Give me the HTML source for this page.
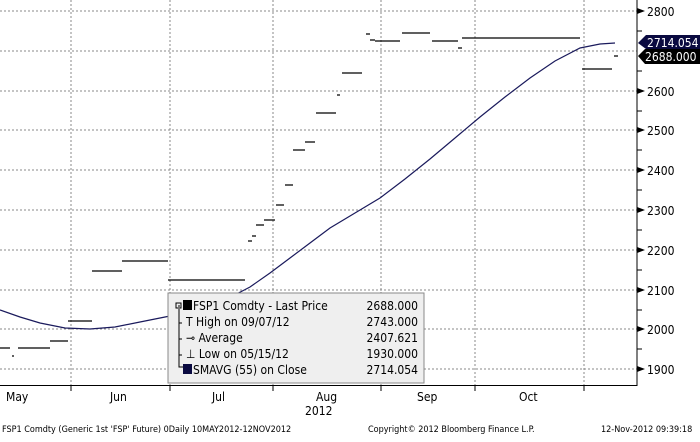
<!DOCTYPE html><html><head><style>body{margin:0;background:#fff}svg text{font-family:"DejaVu Sans Condensed","Liberation Sans",sans-serif;font-size:12px}</style></head><body>
<svg width="700" height="437" xmlns="http://www.w3.org/2000/svg">
<rect width="700" height="437" fill="#fff"/>
<g stroke="#888" stroke-dasharray="2,2" stroke-width="1">
<line x1="0" y1="11" x2="637" y2="11"/><line x1="0" y1="51" x2="637" y2="51"/><line x1="0" y1="91" x2="637" y2="91"/><line x1="0" y1="130" x2="637" y2="130"/><line x1="0" y1="170" x2="637" y2="170"/><line x1="0" y1="210" x2="637" y2="210"/><line x1="0" y1="250" x2="637" y2="250"/><line x1="0" y1="290" x2="637" y2="290"/><line x1="0" y1="329" x2="637" y2="329"/><line x1="0" y1="369" x2="637" y2="369"/>
<line x1="71" y1="0" x2="71" y2="385"/><line x1="170" y1="0" x2="170" y2="385"/><line x1="273" y1="0" x2="273" y2="385"/><line x1="381" y1="0" x2="381" y2="385"/><line x1="475" y1="0" x2="475" y2="385"/><line x1="584" y1="0" x2="584" y2="385"/>
</g>
<line x1="637" y1="0" x2="637" y2="386" stroke="#000"/>
<line x1="0" y1="385.5" x2="637" y2="385.5" stroke="#000"/>
<g stroke="#000" stroke-width="1.2">
<path d="M0 348h10M12 356h2M18 348h32M50 341h18M68 321h24M92 271h30M122 261h46M168 280h77M248 241h4M252 236h4M256 225h8M264 220h11M276 205h8M285 185h8M293 150h12M305 142h10M316 113h20M337 95h3M342 73h20M366 34h4M370 40h5M375 41h25M402 33h28M432 41h26M458 48h4M462 38h118M582 69h30M614 56h4"/>
</g>
<polyline points="0,310 20,317 40,323 65,328 90,329 115,327 140,322 170,316 200,309 225,300 250,287 270,273 290,258 310,243 330,228 355,213 380,198 405,179 430,159 455,138 480,117 505,97 530,78 555,61 580,48 600,44 615,43" fill="none" stroke="#1a1a5c" stroke-width="1.2"/>
<g stroke="#000"><line x1="637" y1="31" x2="642" y2="31"/><line x1="637" y1="71" x2="642" y2="71"/><line x1="637" y1="111" x2="642" y2="111"/><line x1="637" y1="150" x2="642" y2="150"/><line x1="637" y1="190" x2="642" y2="190"/><line x1="637" y1="230" x2="642" y2="230"/><line x1="637" y1="270" x2="642" y2="270"/><line x1="637" y1="310" x2="642" y2="310"/><line x1="637" y1="349" x2="642" y2="349"/>
<line x1="71" y1="385" x2="71" y2="391"/><line x1="170" y1="385" x2="170" y2="391"/><line x1="273" y1="385" x2="273" y2="391"/><line x1="381" y1="385" x2="381" y2="391"/><line x1="475" y1="385" x2="475" y2="391"/><line x1="584" y1="385" x2="584" y2="391"/></g>
<g fill="#000"><path d="M637 8l8 3-8 3z"/><path d="M637 88l8 3-8 3z"/><path d="M637 127l8 3-8 3z"/><path d="M637 167l8 3-8 3z"/><path d="M637 207l8 3-8 3z"/><path d="M637 247l8 3-8 3z"/><path d="M637 287l8 3-8 3z"/><path d="M637 326l8 3-8 3z"/><path d="M637 366l8 3-8 3z"/></g>
<g fill="#000"><text x="647" y="16">2800</text><text x="647" y="96">2600</text><text x="647" y="135">2500</text><text x="647" y="175">2400</text><text x="647" y="215">2300</text><text x="647" y="255">2200</text><text x="647" y="295">2100</text><text x="647" y="334">2000</text><text x="647" y="374">1900</text></g>
<path d="M638 43l8-8h54v14h-54z" fill="#0a0a40"/><text x="647" y="47" fill="#fff">2714.054</text>
<path d="M638 56l7-7h55v15h-55z" fill="#000"/><text x="645" y="61" fill="#fff">2688.000</text>
<g fill="#000"><text x="6" y="401">May</text><text x="110" y="401">Jun</text><text x="212" y="401">Jul</text><text x="316" y="401">Aug</text><text x="417" y="401">Sep</text><text x="519" y="401">Oct</text><text x="305" y="415">2012</text></g>
<g fill="#000" style="font-size:9px"><text x="2" y="432" style="font-size:9px">FSP1 Comdty (Generic 1st 'FSP' Future) 0Daily 10MAY2012-12NOV2012</text><text x="368" y="432" style="font-size:9px">Copyright© 2012 Bloomberg Finance L.P.</text><text x="601" y="432" style="font-size:9px">12-Nov-2012 09:39:18</text></g>
<rect x="168" y="293" width="256" height="90" fill="#efefef" stroke="#888"/>
<g stroke="#000" fill="none"><rect x="176" y="303" width="5" height="5"/><path d="M178 306h2M179 309v58h4M179 323h3M179 339h3M179 355h3"/></g>
<rect x="183" y="300" width="9" height="10" fill="#000"/><rect x="183" y="364" width="9" height="10" fill="#0a0a40"/>
<g fill="#000" style="font-size:13px"><text x="193" y="310">FSP1 Comdty - Last Price</text><text x="186" y="326">T High on 09/07/12</text><text x="186" y="342">⊸ Average</text><text x="186" y="358">⊥ Low on 05/15/12</text><text x="193" y="374">SMAVG (55) on Close</text>
<text x="418" y="310" text-anchor="end">2688.000</text><text x="418" y="326" text-anchor="end">2743.000</text><text x="418" y="342" text-anchor="end">2407.621</text><text x="418" y="358" text-anchor="end">1930.000</text><text x="418" y="374" text-anchor="end">2714.054</text></g>
</svg></body></html>
